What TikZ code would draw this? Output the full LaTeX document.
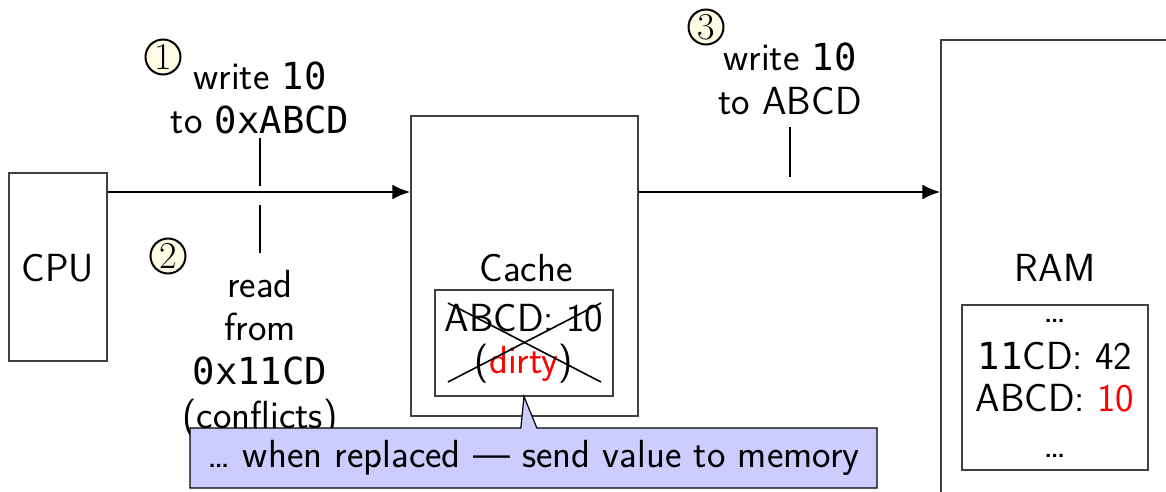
\documentclass[tikz,border=0pt]{standalone}
\usepackage{fontspec}
\setmonofont[Scale=0.95]{DejaVu Sans Mono}
\usetikzlibrary{arrows.meta,shapes.callouts}
\definecolor{circfill}{HTML}{FFFCE6}
\definecolor{callfill}{HTML}{CCCCFF}
\begin{document}
\begin{tikzpicture}[x=0.5pt,y=-0.5pt,
  every node/.style={font=\sffamily\fontsize{19.6}{21.8}\selectfont},
  unitbox/.style={draw=black!75,line width=0.6pt,inner sep=0},
  bus/.style={line width=1.4pt,-{Latex[length=9pt,width=7.5pt]}},
  tick/.style={line width=0.9pt},
  stepnum/.style={circle,draw=black,line width=1pt,fill=circfill,inner sep=0,minimum size=17.5pt,font=\rmfamily\fontsize{19}{19}\selectfont},
  lbl/.style={align=center,inner sep=0},
  crossline/.style={line width=0.8pt}]
\useasboundingbox (0,0) rectangle (1166,492);
\clip (0,0) rectangle (1166,492);
% boxes
\node[unitbox,minimum width=49pt,minimum height=94pt] (cpu) at (58,267) {};
\node[inner sep=0] (cputxt) at (58,268) {CPU};
\node[unitbox,minimum width=113.5pt,minimum height=150pt] (cache) at (524.5,266) {};
\node[inner sep=0] (cachetxt) at (526,268) {Cache};
\node[unitbox,minimum width=89pt,minimum height=53pt] (cline) at (524,343) {};
\node[inner sep=0] (cl1) at (524,318) {ABCD: 10};
\node[inner sep=0] (cl2) at (524,364) {(\textcolor{red}{dirty})};
\draw[crossline] (448,303) -- (601,382);
\draw[crossline] (448,382) -- (601,303);
\node[unitbox,minimum width=160pt,minimum height=260pt] (ram) at (1101,300) {};
\node[inner sep=0] (ramtxt) at (1055,268) {RAM};
\node[unitbox,minimum width=93pt,minimum height=82.5pt] (rline) at (1055,387.5) {};
\node[inner sep=0] (r1) at (1055,321) {\dots};
\node[inner sep=0] (r2) at (1055,356) {\texttt{11}CD: 42};
\node[inner sep=0] (r3) at (1055,398) {ABCD: \textcolor{red}{10}};
\node[inner sep=0] (r4) at (1055,456) {\dots};
% buses
\coordinate (ybus) at (0,192);
\draw[bus] (cpu.east |- ybus) -- (cache.west |- ybus);
\draw[bus] (cache.east |- ybus) -- (ram.west |- ybus);
% labels
\node[lbl] (w1) at (260,98) {write \texttt{10}\\to \texttt{0xABCD}};
\node[stepnum] (n1) at (163,57) {1};
\coordinate (t1a) at (260,138); \coordinate (t1b) at (260,186);
\draw[tick] (t1a) -- (t1b);
\coordinate (t2a) at (260,205); \coordinate (t2b) at (260,253);
\draw[tick] (t2a) -- (t2b);
\node[stepnum] (n2) at (168,256) {2};
\node[lbl] (rd) at (260,354) {read\\from\\\texttt{0x11CD}\\(conflicts)};
\node[lbl] (w3) at (790,79) {write \texttt{10}\\to ABCD};
\node[stepnum] (n3) at (706,27) {3};
\coordinate (t3a) at (790,127); \coordinate (t3b) at (790,177);
\draw[tick] (t3a) -- (t3b);
% callout
\node[rectangle callout,draw=black,line width=0.6pt,fill=callfill,minimum width=343.5pt,minimum height=30pt,inner sep=0,
  callout absolute pointer={(cline.south)},callout pointer width=8pt] (note) at (533.5,458) {\dots{} when replaced --- send value to memory};
\end{tikzpicture}
\end{document}
